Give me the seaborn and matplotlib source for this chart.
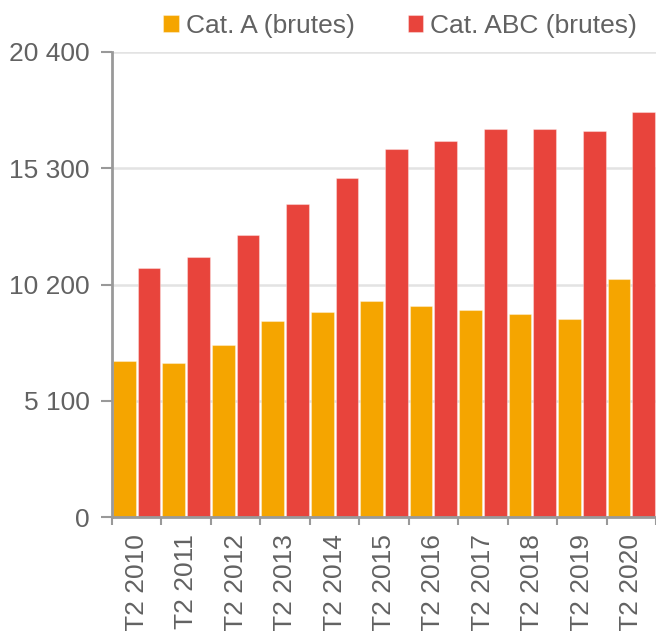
import matplotlib as mpl
mpl.use('Agg')
import matplotlib.pyplot as plt
from matplotlib.ticker import FixedLocator
import numpy as np
import pandas as pd
import seaborn as sns

periodes = ['T2 2010', 'T2 2011', 'T2 2012', 'T2 2013', 'T2 2014', 'T2 2015',
            'T2 2016', 'T2 2017', 'T2 2018', 'T2 2019', 'T2 2020']
cat_a = [6870, 6770, 7540, 8610, 8990, 9470, 9270, 9080, 8900, 8700, 10450]
cat_abc = [10920, 11400, 12370, 13720, 14880, 16140, 16510, 17010, 17010, 16930, 17790]
series = ['Cat. A (brutes)', 'Cat. ABC (brutes)']
couleurs = ['#f5a500', '#e8443c']
yticks = [0, 5100, 10200, 15300, 20400]
ylabels = ['0', '5 100', '10 200', '15 300', '20 400']

df = pd.DataFrame({'periode': periodes * 2,
                   'serie': [series[0]] * len(periodes) + [series[1]] * len(periodes),
                   'valeur': cat_a + cat_abc})

sns.set_theme(style='white')
plt.rcParams['font.family'] = ['Liberation Sans', 'DejaVu Sans']
gris = '#626262'

fig = plt.figure(figsize=(6.56, 6.31), dpi=100)
ax = fig.add_axes([0.1707, 0.1802, 0.8293, 0.7374])

sns.barplot(data=df, x='periode', y='valeur', hue='serie', palette=couleurs,
            saturation=1, width=1.0, gap=0.08, ax=ax, zorder=2,
            edgecolor=(1, 1, 1, 0.35), linewidth=0.8)

ax.set_ylim(0, 20400)
ax.set_xlim(-0.5, len(periodes) - 0.5)
ax.set_yticks(yticks)
ax.set_yticklabels(ylabels)
ax.yaxis.grid(True, color='#e3e3e3', linewidth=1.8, zorder=0)
ax.set_axisbelow(True)

ax.set_xticks(range(len(periodes)))
ax.set_xticklabels(periodes, rotation=90)
ax.xaxis.set_minor_locator(FixedLocator(np.arange(-0.5, len(periodes), 1.0)))
ax.tick_params(axis='x', which='major', length=0, pad=12, labelsize=19, labelcolor=gris)
ax.tick_params(axis='x', which='minor', length=6, width=1.5, color='#999999', bottom=True)
ax.tick_params(axis='y', length=8, width=1.5, color='#999999', pad=8,
               labelsize=19, labelcolor=gris, left=True)

for s in ['top', 'right']:
    ax.spines[s].set_visible(False)
for s in ['left', 'bottom']:
    ax.spines[s].set_color('#999999')
    ax.spines[s].set_linewidth(2)

ax.set_xlabel('')
ax.set_ylabel('')

h, l = ax.get_legend_handles_labels()
ax.legend_.remove()
fig.legend(h, l, loc='center', bbox_to_anchor=(0.61, 0.959), ncol=2, frameon=False,
           fontsize=19, labelcolor=gris, handlelength=0.6, handleheight=0.6,
           handletextpad=0.25, columnspacing=2.0)

plt.savefig('out.png', dpi=100)
